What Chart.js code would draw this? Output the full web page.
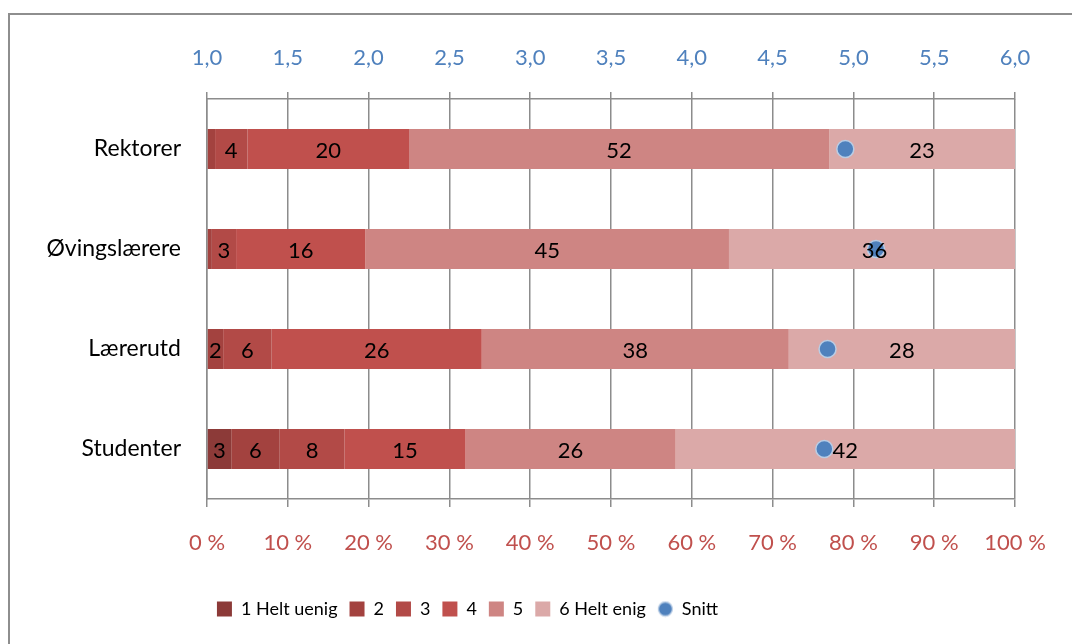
<!DOCTYPE html>
<html>
<head>
<meta charset="utf-8">
<script src="https://cdn.jsdelivr.net/npm/chart.js@4.4.1/dist/chart.umd.min.js"></script>
<style>
  html, body { margin: 0; padding: 0; background: #fff; }
  #wrap { width: 1072px; height: 644px; }
</style>
</head>
<body>
<div id="wrap"><canvas id="c" width="1072" height="644"></canvas></div>
<script>
// Groups and answer distribution (percent per response level)
const categories = ['Rektorer', 'Øvingslærere', 'Lærerutd', 'Studenter'];
const levelNames = ['1 Helt uenig', '2', '3', '4', '5', '6 Helt enig'];
const level1 = [0, 0, 0, 3];
const level2 = [1, 0.6, 2, 6];
const level3 = [4, 3, 6, 8];
const level4 = [20, 16, 26, 15];
const level5 = [52, 45, 38, 26];
const level6 = [23, 36, 28, 42];
// Mean score per group (1–6 scale)
const snitt = [4.95, 5.14, 4.84, 4.82];

// Axis tick labels
const pctTicks = ['0 %', '10 %', '20 %', '30 %', '40 %', '50 %', '60 %', '70 %', '80 %', '90 %', '100 %'];
const meanTicks = ['1,0', '1,5', '2,0', '2,5', '3,0', '3,5', '4,0', '4,5', '5,0', '5,5', '6,0'];

const levelColors = ['#8C3A38', '#A3423F', '#B24A47', '#C0504D', '#CE8583', '#DBA9A8'];
const FONT = 'Lato, "Liberation Sans", sans-serif';
const GRID = '#8C8C8C';

const levels = [level1, level2, level3, level4, level5, level6];
const datasets = levels.map((vals, k) => ({
  type: 'bar',
  label: levelNames[k],
  data: vals,
  backgroundColor: levelColors[k],
  borderWidth: 0,
  xAxisID: 'x',
  yAxisID: 'y',
  order: 1
}));
datasets.push({
  type: 'scatter',
  label: 'Snitt',
  data: snitt.map((v, i) => ({ x: v, y: categories[i] })),
  backgroundColor: '#4F81BD',
  borderColor: '#B9CDE5',
  borderWidth: 1.5,
  pointRadius: 8.5,
  xAxisID: 'x2',
  yAxisID: 'y',
  order: 0
});

// Small legend marker for the mean series
const snittIcon = document.createElement('canvas');
snittIcon.width = 17; snittIcon.height = 17;
(function () {
  const g = snittIcon.getContext('2d');
  g.beginPath(); g.arc(8.5, 8.5, 7, 0, Math.PI * 2);
  g.fillStyle = '#4F81BD'; g.fill();
  g.lineWidth = 1.3; g.strokeStyle = '#B9CDE5'; g.stroke();
})();

// Outer frame and white background
const framePlugin = {
  id: 'frame',
  beforeDraw(chart) {
    const ctx = chart.ctx;
    ctx.save();
    ctx.fillStyle = '#fff';
    ctx.fillRect(0, 0, chart.width, chart.height);
    ctx.strokeStyle = '#8E8E8E';
    ctx.lineWidth = 2;
    ctx.strokeRect(9, 14, chart.width + 20, chart.height + 20);
    ctx.restore();
  }
};

// Legend row sits slightly left of the canvas centre
const legendShift = {
  id: 'legendShift',
  afterLayout(chart) {
    if (chart.legend) {
      chart.legend.left -= 50;
      chart.legend.right -= 50;
    }
  }
};

// Percentage numbers centred in each bar segment
const segLabels = {
  id: 'segLabels',
  afterDatasetsDraw(chart) {
    const ctx = chart.ctx;
    ctx.save();
    ctx.font = '22px ' + FONT;
    ctx.fillStyle = '#000';
    ctx.textAlign = 'center';
    ctx.textBaseline = 'middle';
    chart.data.datasets.forEach((ds, di) => {
      if (ds.type !== 'bar') return;
      const meta = chart.getDatasetMeta(di);
      meta.data.forEach((el, i) => {
        const v = ds.data[i];
        if (v < 1.5) return;
        ctx.fillText(String(v), (el.x + el.base) / 2, el.y + 2);
      });
    });
    ctx.restore();
  }
};

new Chart(document.getElementById('c'), {
  data: { labels: categories, datasets },
  options: {
    indexAxis: 'y',
    responsive: false,
    animation: false,
    devicePixelRatio: 1,
    layout: { padding: { top: 20, left: 20, right: 57, bottom: 16 } },
    datasets: { bar: { categoryPercentage: 0.4, barPercentage: 1 } },
    scales: {
      x: {
        type: 'linear', position: 'bottom', stacked: true,
        min: 0, max: 100,
        ticks: {
          stepSize: 10, padding: 23, color: '#C0504D',
          font: { family: FONT, size: 22 },
          callback: (v, i) => pctTicks[i]
        },
        grid: { color: GRID, lineWidth: 1.5, tickLength: 8 },
        border: { display: true, color: GRID, width: 1.5 },
        afterFit(s) { s.height = 89; }
      },
      x2: {
        type: 'linear', position: 'top',
        min: 1, max: 6,
        ticks: {
          stepSize: 0.5, padding: 21, color: '#4F81BD',
          font: { family: FONT, size: 22 },
          callback: (v, i) => meanTicks[i]
        },
        grid: { drawOnChartArea: false, color: GRID, lineWidth: 1.5, tickLength: 7 },
        border: { display: true, color: GRID, width: 1.5 },
        afterFit(s) { s.height = 79; }
      },
      y: {
        type: 'category', stacked: true,
        ticks: { color: '#000', padding: 18, font: { family: FONT, size: 23 } },
        grid: { display: false },
        border: { display: true, color: GRID, width: 1.5 },
        afterFit(s) { s.width = 187; }
      }
    },
    plugins: {
      tooltip: { enabled: false },
      legend: {
        position: 'bottom',
        labels: {
          usePointStyle: true,
          boxWidth: 15,
          boxHeight: 15,
          padding: 12,
          color: '#000',
          font: { family: FONT, size: 18 },
          sort: (a, b) => a.datasetIndex - b.datasetIndex,
          generateLabels(chart) {
            const items = Chart.defaults.plugins.legend.labels.generateLabels(chart);
            items.forEach(it => {
              const ds = chart.data.datasets[it.datasetIndex];
              it.pointStyle = ds.type === 'scatter' ? snittIcon : 'rect';
              it.lineWidth = 0;
              it.strokeStyle = 'rgba(0,0,0,0)';
            });
            return items;
          }
        }
      }
    }
  },
  plugins: [framePlugin, legendShift, segLabels]
});
</script>
</body>
</html>
